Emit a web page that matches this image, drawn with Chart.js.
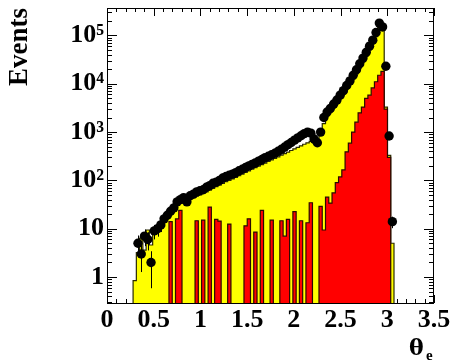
<!DOCTYPE html>
<html>
<head>
<meta charset="utf-8">
<script src="https://cdn.jsdelivr.net/npm/chart.js@4.4.0/dist/chart.umd.min.js"></script>
<style>
  html, body { margin: 0; padding: 0; background: #fff; }
</style>
</head>
<body>
<canvas id="myChart" width="450" height="362"></canvas>
<script>
// 2 degree bins in theta_e, values listed from bin 7 on
var binWidth = Math.PI / 90;
var firstBin = 7;

var dataEvents = [
    0, 0, 5, 3, 7, 6, 2, 9, 10, 12,
    16, 19, 23, 27, 36, 40, 44, 36, 48, 52,
    58, 61, 64, 72, 78, 87, 92, 100, 112, 120,
    128, 135, 145, 158, 170, 185, 200, 215, 230, 250,
    270, 295, 315, 340, 365, 400, 440, 490, 550, 610,
    680, 760, 840, 930, 1000, 950, 720, 600, 1000, 2000,
    2600, 3100, 3800, 4600, 5800, 7200, 9200, 11500, 15000, 19500,
    26000, 34000, 45000, 60000, 80000, 115000, 180000, 150000, 23000, 830,
    14
];
var mcTotal = [
    0, 0.84, 3.2, 6.4, 3.6, 9.4, 4.6, 8, 11, 14,
    18, 21, 25, 28, 31, 34, 37, 39, 41, 44,
    47, 50, 54, 58, 63, 68, 74, 80, 87, 94,
    100, 108, 116, 125, 135, 146, 158, 170, 183, 197,
    212, 228, 246, 265, 285, 308, 332, 358, 386, 416,
    448, 483, 520, 560, 600, 640, 600, 560, 900, 1500,
    2100, 2600, 3200, 4000, 5000, 6200, 7800, 9800, 12500, 16000,
    21000, 28000, 37000, 50000, 68000, 95000, 150000, 170000, 3300, 330,
    5
];
var mcRed = [
    0, 0, 0, 0, 0, 0, 0, 0, 0, 0,
    0, 0, 14, 0, 16, 24, 0, 0, 0, 0,
    14.6, 0, 15, 0, 28, 0, 15.6, 14.4, 0, 0,
    12.5, 0, 0, 0, 0, 11.5, 16, 0, 8.5, 0,
    24, 0, 0, 15, 0, 0, 14.6, 7, 15.6, 0,
    22.5, 0, 14.6, 0, 13.3, 34.5, 0, 0, 29, 9.4,
    45, 34, 55, 90, 118, 165, 390, 590, 1000, 1600,
    2500, 3300, 5000, 5800, 8200, 11000, 15000, 18000, 3000, 300,
    0
];

var xTicks = [0, 0.5, 1, 1.5, 2, 2.5, 3, 3.5];
var yTicks = [1, 10, 100, 1000, 10000, 100000];
var yLabels = ['1', '10', '10²', '10³', '10⁴', '10⁵'];

var FLOOR = 0.01;
var serif = 'Liberation Serif';

function binEdge(i) { return i * binWidth; }

// stepped outline: left edge of every bin, then closing edge
function stepPoints(vals) {
    var pts = [{ x: binEdge(firstBin), y: FLOOR }];
    for (var k = 0; k < vals.length; k++) {
        pts.push({ x: binEdge(firstBin + k), y: vals[k] > 0 ? vals[k] : FLOOR });
    }
    pts.push({ x: binEdge(firstBin + vals.length), y: FLOOR });
    return pts;
}

function markerPoints(vals) {
    var pts = [];
    for (var k = 0; k < vals.length; k++) {
        if (vals[k] > 0) pts.push({ x: binEdge(firstBin + k) + binWidth / 2, y: vals[k] });
    }
    return pts;
}

// ROOT-like frame with inward ticks on all four sides
var frameTicks = {
    id: 'frameTicks',
    beforeDatasetsDraw: function (chart) {
        var ctx = chart.ctx, a = chart.chartArea;
        var xs = chart.scales.x, ys = chart.scales.y;
        ctx.save();
        ctx.strokeStyle = '#000';
        ctx.lineWidth = 1;
        ctx.beginPath();
        for (var t = 0; t <= 35; t++) {
            var px = Math.round(xs.getPixelForValue(t / 10)) + 0.5;
            var len = (t % 5 === 0) ? 8 : 4;
            ctx.moveTo(px, a.bottom); ctx.lineTo(px, a.bottom - len);
            ctx.moveTo(px, a.top); ctx.lineTo(px, a.top + len);
        }
        for (var d = -1; d <= 5; d++) {
            for (var m = 1; m <= 9; m++) {
                var v = m * Math.pow(10, d);
                if (v < ys.min || v > ys.max) continue;
                var py = Math.round(ys.getPixelForValue(v)) + 0.5;
                var l2 = (m === 1) ? 10 : 5;
                ctx.moveTo(a.left, py); ctx.lineTo(a.left + l2, py);
                ctx.moveTo(a.right, py); ctx.lineTo(a.right - l2, py);
            }
        }
        ctx.stroke();
        ctx.restore();
    },
    afterDraw: function (chart) {
        var ctx = chart.ctx, a = chart.chartArea;
        var xs = chart.scales.x, ys = chart.scales.y;
        ctx.save();
        // error bars on the data points
        ctx.beginPath();
        ctx.rect(a.left, a.top, a.right - a.left, a.bottom - a.top);
        ctx.clip();
        ctx.strokeStyle = '#000';
        ctx.lineWidth = 1;
        ctx.beginPath();
        chart.data.datasets[0].data.forEach(function (p) {
            var err = Math.sqrt(p.y);
            var lo = p.y - err > 0 ? p.y - err : FLOOR;
            var px = Math.round(xs.getPixelForValue(p.x)) + 0.5;
            ctx.moveTo(px, ys.getPixelForValue(lo));
            ctx.lineTo(px, ys.getPixelForValue(p.y + err));
        });
        ctx.stroke();
        ctx.restore();

        ctx.save();
        ctx.strokeStyle = '#000';
        ctx.lineWidth = 1;
        ctx.strokeRect(a.left + 0.5, a.top + 0.5, a.right - a.left - 1, a.bottom - a.top);
        // axis title theta_e
        ctx.fillStyle = '#000';
        ctx.textBaseline = 'alphabetic';
        ctx.textAlign = 'left';
        ctx.font = 'bold 22px "DejaVu Serif"';
        ctx.fillText('θ', 409, 355);
        ctx.font = 'bold 15px "Liberation Serif"';
        ctx.fillText('e', 426, 360);
        ctx.restore();
    }
};

var ctx = document.getElementById('myChart').getContext('2d');
var myChart = new Chart(ctx, {
    type: 'line',
    data: {
        datasets: [{
            label: 'Data',
            type: 'scatter',
            data: markerPoints(dataEvents),
            pointRadius: 4.7,
            pointBackgroundColor: '#000',
            pointBorderColor: '#000',
            pointBorderWidth: 0,
            showLine: false,
            order: 0
        }, {
            label: 'MC red',
            data: stepPoints(mcRed),
            stepped: 'before',
            fill: 'start',
            backgroundColor: '#ff0000',
            borderColor: '#2a0a00',
            borderWidth: 1.2,
            pointRadius: 0,
            order: 1
        }, {
            label: 'MC total',
            data: stepPoints(mcTotal),
            stepped: 'before',
            fill: 'start',
            backgroundColor: '#ffff00',
            borderColor: '#2a2a00',
            borderWidth: 1.2,
            pointRadius: 0,
            order: 2
        }]
    },
    options: {
        responsive: false,
        devicePixelRatio: 1,
        animation: false,
        layout: { padding: { left: 0, right: 16, top: 8, bottom: 0 } },
        plugins: { legend: { display: false }, tooltip: { enabled: false } },
        scales: {
            x: {
                type: 'linear',
                min: 0,
                max: 3.5,
                grid: { display: false, drawTicks: false },
                border: { display: false },
                afterBuildTicks: function (scale) {
                    scale.ticks = xTicks.map(function (v) { return { value: v }; });
                },
                ticks: {
                    autoSkip: false,
                    maxRotation: 0,
                    padding: 2,
                    color: '#000',
                    font: { family: serif, size: 26, weight: 'bold' },
                    callback: function (v) { return String(v); }
                },
                afterFit: function (scale) {
                    scale.height = 59;
                    scale.paddingLeft = 0;
                    scale.paddingRight = 0;
                }
            },
            y: {
                type: 'logarithmic',
                min: 0.29,
                max: 370000,
                grid: { display: false, drawTicks: false },
                border: { display: false },
                afterBuildTicks: function (scale) {
                    scale.ticks = yTicks.map(function (v) { return { value: v }; });
                },
                ticks: {
                    autoSkip: false,
                    padding: 3,
                    color: '#000',
                    font: { family: serif, size: 26, weight: 'bold' },
                    callback: function (v) {
                        var k = yTicks.indexOf(v);
                        return k >= 0 ? yLabels[k] : '';
                    }
                },
                title: {
                    display: true,
                    text: 'Events',
                    align: 'end',
                    color: '#000',
                    font: { family: serif, size: 27, weight: 'bold' },
                    padding: { top: 4, bottom: 0 }
                },
                afterFit: function (scale) {
                    scale.width = 107;
                    scale.paddingTop = 0;
                    scale.paddingBottom = 0;
                }
            }
        }
    },
    plugins: [frameTicks]
});
</script>
</body>
</html>
